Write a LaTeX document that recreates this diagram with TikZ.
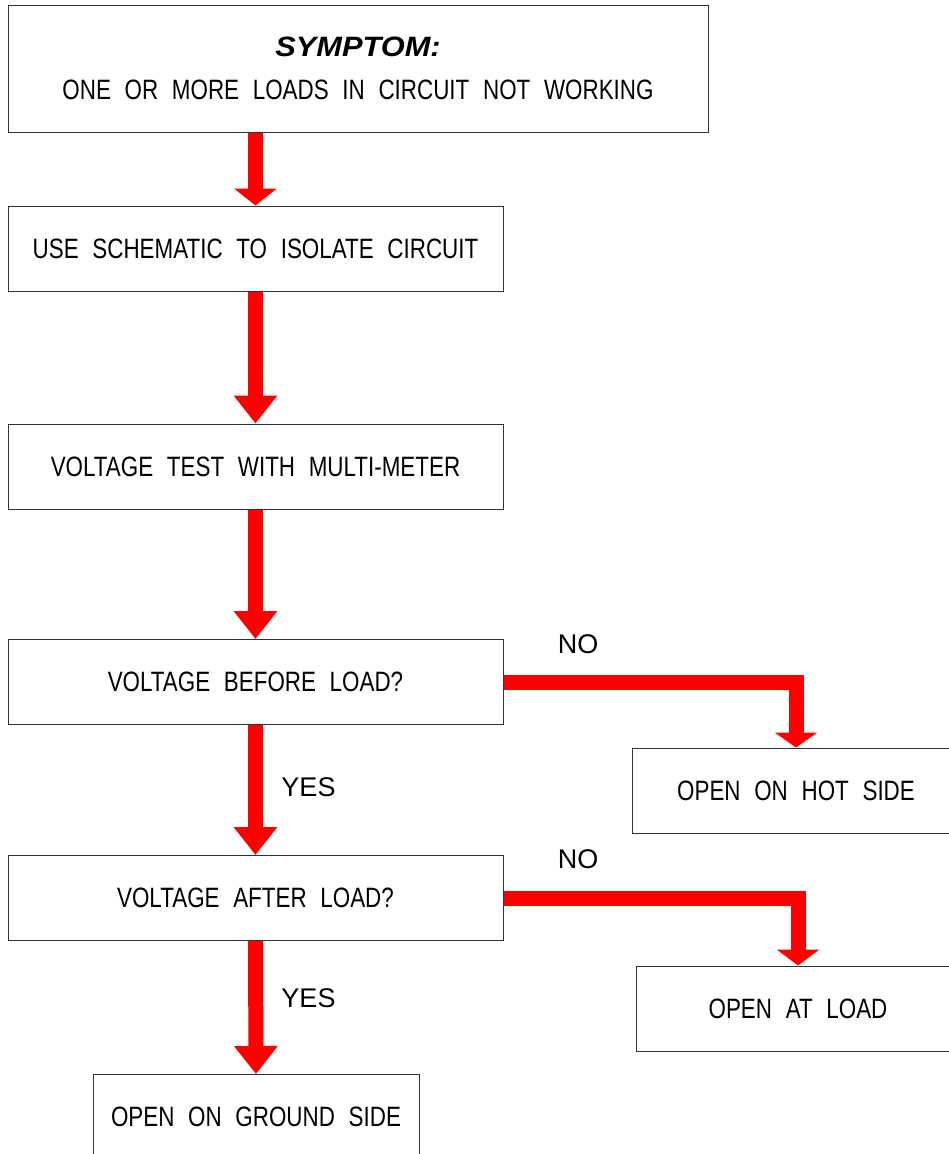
\documentclass[tikz,border=0pt]{standalone}
\usepackage{fontspec}
\newfontfamily\narrowfont[FakeStretch=0.8,WordSpace=2.2]{Liberation Sans}
\newfontfamily\labelfont{Liberation Sans}
\newfontfamily\symfont[FakeStretch=1.1]{Liberation Sans}
\usetikzlibrary{arrows.meta,positioning}

\begin{document}
\begin{tikzpicture}[x=1pt,y=-1pt,
    box/.style={draw=black!80,line width=1pt,inner sep=0pt,minimum height=85pt,
      font=\narrowfont\fontsize{28}{34}\selectfont},
    flow/.style={red,line width=15pt,-{Triangle[width=42pt,length=#1]}},
    flow/.default=28pt,
    answer/.style={font=\labelfont\fontsize{27}{32}\selectfont,inner sep=0pt}]
  \fill[white] (0,0) rectangle (949,1154);
  \useasboundingbox (0,0) rectangle (949,1154);

  % main column
  \node[box,minimum width=700pt,minimum height=127pt,align=center] (b1) at (358,68.5)
    {{\symfont\bfseries\itshape SYMPTOM:}\\[9pt]ONE OR MORE LOADS IN CIRCUIT NOT WORKING};
  \node[box,minimum width=495pt] (b2) at (255.5,248.5) {USE SCHEMATIC TO ISOLATE CIRCUIT};
  \node[box,minimum width=495pt] (b3) at (255.5,466.5) {VOLTAGE TEST WITH MULTI-METER};
  \node[box,minimum width=495pt] (b4) at (255.5,682) {VOLTAGE BEFORE LOAD?};
  \node[box,minimum width=495pt] (b6) at (255.5,898) {VOLTAGE AFTER LOAD?};
  \node[box,minimum width=326pt] (b8) at (256,1117) {OPEN ON GROUND SIDE};

  % right column
  \node[box,minimum width=328pt] (b5) at (796,790.5) {OPEN ON HOT SIDE};
  \node[box,minimum width=324pt] (b7) at (798,1008.5) {OPEN AT LOAD};

  \draw[flow=17pt] (b2.north |- b1.south) -- (b2.north);
  \draw[flow] (b2.south) -- (b3.north);
  \draw[flow] (b3.south) -- (b4.north);
  \draw[flow] (b4.south) -- (b6.north);
  \draw[flow] (b6.south) -- (b8.north);
  \draw[flow=15pt,line join=miter] (b4.east) -| (b5.north);
  \draw[flow=16pt,line join=miter] (b6.east) -| (b7.north);

  \node[answer] (no1) at (578,644.5) {NO};
  \node[answer] (yes1) at (308.5,787) {YES};
  \node[answer] (no2) at (578,859) {NO};
  \node[answer] (yes2) at (308.5,998) {YES};
\end{tikzpicture}
\end{document}
